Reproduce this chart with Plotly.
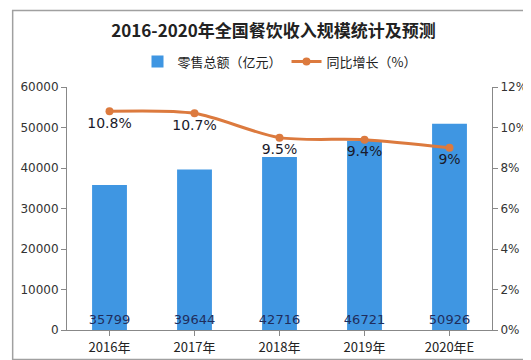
import plotly.graph_objects as go

categories = ["2016年", "2017年", "2018年", "2019年", "2020年E"]
retail_total = [35799, 39644, 42716, 46721, 50926]
yoy_growth = [10.8, 10.7, 9.5, 9.4, 9.0]
growth_labels = ["10.8%", "10.7%", "9.5%", "9.4%", "9%"]
left_ticks = [0, 10000, 20000, 30000, 40000, 50000, 60000]
right_ticks = [0, 2, 4, 6, 8, 10, 12]
right_tick_labels = ["0%", "2%", "4%", "6%", "8%", "10%", "12%"]

FONT = "Noto Sans CJK SC"

fig = go.Figure()
fig.add_trace(go.Bar(
    x=categories, y=retail_total, name="零售总额（亿元）",
    marker=dict(color="#3f96e2", line=dict(width=0)),
    width=0.41,
    text=[str(v) for v in retail_total], textposition="inside",
    insidetextanchor="start", textangle=0, constraintext="none",
    textfont=dict(family="DejaVu Sans", size=13, color="#1f2d5c"),
    cliponaxis=False,
))
fig.add_trace(go.Scatter(
    x=categories, y=yoy_growth, name="同比增长（%）", yaxis="y2",
    mode="lines+markers+text",
    line=dict(color="#dc7a3e", width=3, shape="spline", smoothing=0.8),
    marker=dict(color="#dc7a3e", size=8),
    text=growth_labels, textposition="bottom center",
    textfont=dict(family="DejaVu Sans", size=14, color="#1a1a2a"),
    cliponaxis=False,
))

W, H = 531, 360
L, R, T, B = 57, 36, 79, 33
pw, ph = W - L - R, H - T - B

fig.update_layout(
    width=W, height=H,
    margin=dict(l=L, r=R, t=T, b=B),
    paper_bgcolor="white", plot_bgcolor="white",
    font=dict(family=FONT, size=13, color="#333333"),
    title=dict(text="<b>2016-2020年全国餐饮收入规模统计及预测</b>",
               x=0.5, xanchor="center", y=1 - 23 / H, yanchor="middle",
               font=dict(family=FONT, size=17, color="#222222")),
    showlegend=True,
    legend=dict(orientation="h", x=0.5, xanchor="center", y=1 + (T - 53) / ph, yanchor="middle",
                font=dict(family=FONT, size=13, color="#222222"),
                itemwidth=30, bgcolor="rgba(0,0,0,0)"),
    bargap=0.59,
    xaxis=dict(showline=True, linecolor="#888888", linewidth=1,
               ticks="outside", ticklen=5, tickcolor="#888888",
               tickfont=dict(size=13, color="#222222"), showgrid=False),
    yaxis=dict(range=[0, 60000], tickvals=left_ticks, tickformat="d", showline=True,
               linecolor="#888888", linewidth=1, ticks="outside", ticklen=5,
               tickcolor="#888888", showgrid=False, zeroline=False,
               tickfont=dict(family="DejaVu Sans", size=12, color="#333333")),
    yaxis2=dict(range=[0, 12], tickvals=right_ticks, ticktext=right_tick_labels,
                overlaying="y", side="right", showline=True, linecolor="#888888",
                linewidth=1, ticks="outside", ticklen=5, tickcolor="#888888",
                showgrid=False, zeroline=False,
                tickfont=dict(family="DejaVu Sans", size=12, color="#333333")),
    shapes=[dict(type="rect", xref="paper", yref="paper",
                 x0=(1 - L) / pw, x1=(529 - L) / pw,
                 y0=(H - B - 357) / ph, y1=(H - B - 1) / ph,
                 line=dict(color="#a0a0a0", width=1.5), layer="below")],
)

fig.write_html("out.html")
